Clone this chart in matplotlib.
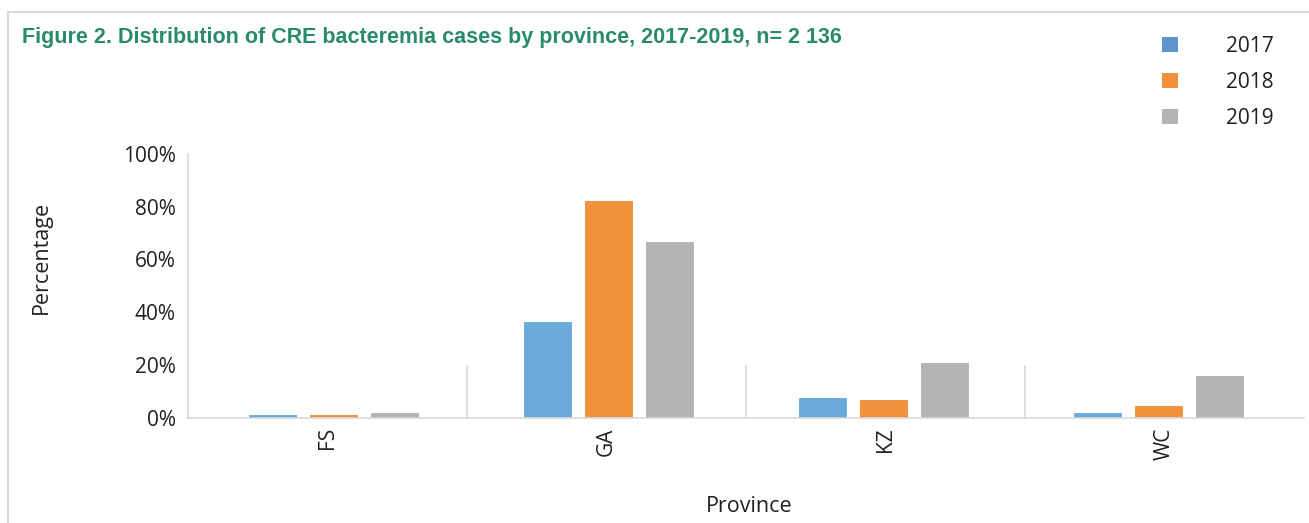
import numpy as np
import matplotlib.pyplot as plt
from matplotlib.patches import Patch
from matplotlib.lines import Line2D

# -------------------------------
# Данные
# -------------------------------
provinces = ['FS', 'GA', 'KZ', 'WC']
years = ['2017', '2018', '2019']
pct_2017 = [1.3, 36.7, 7.8, 2.0]
pct_2018 = [1.3, 82.5, 7.1, 4.9]
pct_2019 = [2.2, 67.0, 21.1, 16.1]

bar_colors = ['#6aaadb', '#f0913c', '#b3b3b3']
legend_colors = ['#5e95cd', '#f0913c', '#b3b3b3']
text_col = '#231f20'
grid_col = '#d9d9d9'

plt.rcParams['font.family'] = ['Open Sans', 'DejaVu Sans']

fig = plt.figure(figsize=(13.09, 5.23), dpi=100)
ax = fig.add_axes([188 / 1309, 105.5 / 523, 1116 / 1309, 263.5 / 523])

x = np.arange(len(provinces))
# группы столбцов в оригинале чуть сжаты к центру
xg = 1.5 + (x - 1.5) * 0.986
w = 0.175
step = 0.219
for i, vals in enumerate([pct_2017, pct_2018, pct_2019]):
    ax.bar(xg + (i - 1) * step, np.array(vals) / 100, width=w,
           color=bar_colors[i], edgecolor='white', linewidth=0.8, zorder=2)

ax.set_xlim(-0.5, 3.5)
ax.set_ylim(0, 1)
ax.set_yticks([0, 0.2, 0.4, 0.6, 0.8, 1.0])
ax.set_yticklabels(['0%', '20%', '40%', '60%', '80%', '100%'])
ax.set_xticks(x)
ax.set_xticklabels(provinces, rotation=90)
ax.tick_params(axis='both', length=0, labelsize=15, colors=text_col)
ax.tick_params(axis='x', pad=7)
ax.tick_params(axis='y', pad=9)

for s in ['top', 'right']:
    ax.spines[s].set_visible(False)
for s in ['left', 'bottom']:
    ax.spines[s].set_color(grid_col)
    ax.spines[s].set_linewidth(1.2)

# разделители категорий
for b in [0.5, 1.5, 2.5]:
    ax.plot([b, b], [0, 0.195], color=grid_col, lw=1.2, zorder=1, clip_on=False)

ax.set_ylabel('Percentage', fontsize=15.5, color=text_col)
ax.yaxis.set_label_coords(-136 / 1116, 0.606)
ax.set_xlabel('Province', fontsize=15.5, color=text_col)
ax.xaxis.set_label_coords(0.503, -79 / 263.5)

# заголовок
fig.text(22 / 1309, 1 - 38 / 523,
         'Figure 2. Distribution of CRE bacteremia cases by province, 2017-2019, n= 2 136',
         fontsize=15.5, fontweight='bold', color='#2a8a6e', va='center', ha='left',
         family=['Liberation Sans', 'DejaVu Sans'])

# легенда
handles = [Patch(facecolor=c, edgecolor='none') for c in legend_colors]
fig.legend(handles, years, loc='upper left', bbox_to_anchor=(1143 / 1309, 1 - 17 / 523),
           frameon=False, fontsize=15, handlelength=0.8, handleheight=0.8,
           handletextpad=2.3, labelspacing=0.72, labelcolor=text_col)

# рамка
fig.add_artist(Line2D([8 / 1309, 1], [1 - 12 / 523, 1 - 12 / 523], color=grid_col, lw=1.5,
                      transform=fig.transFigure))
fig.add_artist(Line2D([8 / 1309, 8 / 1309], [0, 1 - 12 / 523], color=grid_col, lw=1.5,
                      transform=fig.transFigure))

fig.savefig('out.png', dpi=100)
